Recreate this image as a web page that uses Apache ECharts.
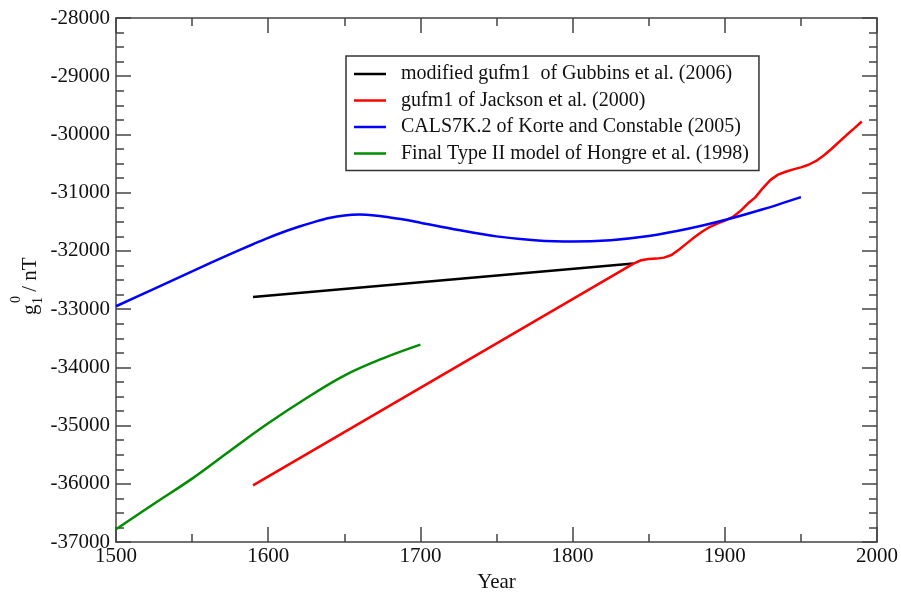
<!DOCTYPE html>
<html><head><meta charset="utf-8">
<script src="https://cdn.jsdelivr.net/npm/echarts@6/dist/echarts.min.js"></script>
<style>html,body{margin:0;padding:0;background:#fff}#c{width:901px;height:598px}</style>
</head><body><div id="c"></div>
<script>
var seriesNames = [
  "modified gufm1  of Gubbins et al. (2006)",
  "gufm1 of Jackson et al. (2000)",
  "CALS7K.2 of Korte and Constable (2005)",
  "Final Type II model of Hongre et al. (1998)"
];
var blackYears = [1590, 1840];
var blackVals = [-32790, -32215];
var redYears = [1590, 1840, 1845, 1850, 1855, 1860, 1865, 1870, 1875, 1880, 1885, 1890, 1895, 1900, 1905, 1910, 1915, 1920, 1925, 1930, 1935, 1940, 1945, 1950, 1955, 1960, 1965, 1970, 1975, 1980, 1985, 1990];
var redVals = [-36025, -32218, -32160, -32138, -32132, -32115, -32070, -31975, -31870, -31765, -31670, -31590, -31530, -31480, -31420, -31320, -31190, -31080, -30920, -30780, -30690, -30640, -30600, -30565, -30520, -30455, -30360, -30250, -30130, -30010, -29895, -29777];
var blueYears = [1500, 1525, 1550, 1575, 1590, 1600, 1610, 1620, 1630, 1640, 1650, 1660, 1670, 1680, 1690, 1700, 1725, 1750, 1775, 1800, 1825, 1850, 1875, 1900, 1925, 1950];
var blueVals = [-32950, -32650, -32350, -32055, -31885, -31775, -31675, -31585, -31505, -31435, -31390, -31375, -31390, -31425, -31465, -31515, -31640, -31750, -31815, -31840, -31815, -31745, -31625, -31470, -31285, -31075];
var greenYears = [1500, 1525, 1550, 1575, 1600, 1625, 1650, 1675, 1700];
var greenVals = [-36780, -36340, -35910, -35430, -34960, -34530, -34140, -33850, -33610];
var colors = ["#000000", "#ff0000", "#0000ff", "#008c00"];
var smoothing = [false, false, 0.3, 0.4];

function pairs(xs, ys) { return xs.map(function (x, i) { return [x, ys[i]]; }); }
var allData = [pairs(blackYears, blackVals), pairs(redYears, redVals), pairs(blueYears, blueVals), pairs(greenYears, greenVals)];

var font = "'Liberation Serif', 'Times New Roman', serif";
var axisLine = { lineStyle: { color: "#444", width: 1.5 } };
function fmt(v) { return String(v); }
function mkX(show, pos) {
  return {
    type: "value", min: 1500, max: 2000, interval: 100, position: pos,
    axisLine: axisLine,
    axisTick: { show: true, inside: true, length: 15, lineStyle: { color: "#444", width: 1.5 } },
    minorTick: { show: true, splitNumber: 2, length: 8, lineStyle: { color: "#444", width: 1.5 } },
    axisLabel: { show: show, color: "#111", fontFamily: font, fontSize: 21, margin: 4, formatter: fmt },
    splitLine: { show: false }
  };
}
function mkY(show, pos) {
  return {
    type: "value", min: -37000, max: -28000, interval: 1000, position: pos,
    axisLine: axisLine,
    axisTick: { show: true, inside: true, length: 15, lineStyle: { color: "#444", width: 1.5 } },
    minorTick: { show: true, splitNumber: 4, length: 8, lineStyle: { color: "#444", width: 1.5 } },
    axisLabel: { show: show, color: "#111", fontFamily: font, fontSize: 21, margin: 6, formatter: fmt },
    splitLine: { show: false }
  };
}
var xa = mkX(true, "bottom");
xa.name = "Year"; xa.nameLocation = "middle"; xa.nameGap = 27;
xa.nameTextStyle = { fontFamily: font, fontSize: 21, color: "#111" };
var chart = echarts.init(document.getElementById("c"));
chart.setOption({
  animation: false,
  backgroundColor: "#fff",
  grid: { left: 116, right: 21, top: 18, bottom: 45 },
  xAxis: [xa, mkX(false, "top")],
  yAxis: [mkY(true, "left"), mkY(false, "right")],
  legend: {
    orient: "vertical", left: 346, top: 56,
    borderColor: "#333", borderWidth: 1.5, padding: [7, 10, 6, 8],
    itemWidth: 32, itemHeight: 2.5, itemGap: 4.5, icon: "rect",
    textStyle: { fontFamily: font, fontSize: 20, color: "#111", lineHeight: 22, padding: [0, 0, 0, 10] },
    data: seriesNames
  },
  graphic: [{
    type: "group", x: 30, y: 287, rotation: Math.PI / 2,
    children: [
      { type: "text", x: -28, y: 0, style: { text: "g", font: "21px " + font, fill: "#111", textVerticalAlign: "middle" } },
      { type: "text", x: -16, y: -14, style: { text: "0", font: "14px " + font, fill: "#111", textVerticalAlign: "middle" } },
      { type: "text", x: -17, y: 8, style: { text: "1", font: "14px " + font, fill: "#111", textVerticalAlign: "middle" } },
      { type: "text", x: -10, y: 0, style: { text: " / nT", font: "21px " + font, fill: "#111", textVerticalAlign: "middle" } }
    ]
  }],
  series: allData.map(function (d, i) {
    return {
      name: seriesNames[i], type: "line", data: d, xAxisIndex: 0, yAxisIndex: 0,
      showSymbol: false, smooth: smoothing[i],
      lineStyle: { color: colors[i], width: 2.5 }, itemStyle: { color: colors[i] }
    };
  })
});
</script></body></html>
